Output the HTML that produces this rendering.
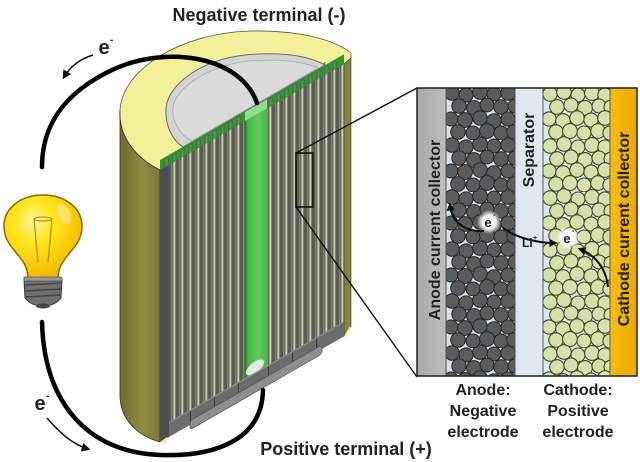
<!DOCTYPE html>
<html><head><meta charset="utf-8"><style>
html,body{margin:0;padding:0;background:#fff;}
svg{display:block}
text{font-family:"Liberation Sans",sans-serif}
</style></head><body>
<svg width="640" height="462" viewBox="0 0 640 462" xmlns="http://www.w3.org/2000/svg">
<defs>
 <linearGradient id="olive" x1="0" x2="1" y1="0" y2="0">
  <stop offset="0" stop-color="#6c6a2a"/>
  <stop offset="0.55" stop-color="#8e8c43"/>
  <stop offset="1" stop-color="#7a7834"/>
 </linearGradient>
 <linearGradient id="greenG" x1="0" x2="1" y1="0" y2="0">
  <stop offset="0" stop-color="#2f8f2f"/>
  <stop offset="0.15" stop-color="#45b545"/>
  <stop offset="0.6" stop-color="#62cc62"/>
  <stop offset="1" stop-color="#49b749"/>
 </linearGradient>
 <linearGradient id="grayC" x1="0" x2="1" y1="0" y2="0">
  <stop offset="0" stop-color="#a9a9a9"/>
  <stop offset="1" stop-color="#bdbdbd"/>
 </linearGradient>
 <linearGradient id="orangeC" x1="0" x2="1" y1="0" y2="0">
  <stop offset="0" stop-color="#f7bd10"/>
  <stop offset="1" stop-color="#eaa800"/>
 </linearGradient>
 <radialGradient id="bulbG" cx="0.38" cy="0.32" r="0.7">
  <stop offset="0" stop-color="#fff7a8"/>
  <stop offset="0.35" stop-color="#ffe61e"/>
  <stop offset="1" stop-color="#f2b800"/>
 </radialGradient>
 <radialGradient id="glow">
  <stop offset="0" stop-color="#ffffff" stop-opacity="1"/>
  <stop offset="0.6" stop-color="#ffffff" stop-opacity="0.9"/>
  <stop offset="1" stop-color="#ffffff" stop-opacity="0"/>
 </radialGradient>
 <pattern id="stripes" patternUnits="userSpaceOnUse" width="8" height="10" x="160" y="0">
   <rect width="8" height="10" fill="#d8d9a4"/>
   <rect x="0" width="3.5" height="10" fill="#5a5a5a"/>
   <rect x="3.5" width="1" height="10" fill="#9c9c9c"/>
   <rect x="4.5" width="0.8" height="10" fill="#2c2c2c"/>
   <rect x="7" width="1" height="10" fill="#7a7a7a"/>
 </pattern>
 <pattern id="anodeP" patternUnits="userSpaceOnUse" width="69" height="52" x="446" y="88">
  <rect width="69" height="52" fill="#d6e0ea"/>
  <g fill="#5b5b5b" stroke="#262626" stroke-width="1">
   <circle cx="6" cy="57" r="7.3"/><circle cx="20" cy="59" r="7.1"/><circle cx="34" cy="56" r="7.4"/><circle cx="48" cy="58" r="7"/><circle cx="62" cy="57" r="7.3"/>
   <circle cx="6" cy="5" r="7.3"/><circle cx="20" cy="7" r="7.1"/><circle cx="34" cy="4" r="7.4"/><circle cx="48" cy="6" r="7"/><circle cx="62" cy="5" r="7.3"/>
   <circle cx="13" cy="18" r="7.2"/><circle cx="28" cy="20" r="7.4"/><circle cx="41" cy="17" r="7"/><circle cx="55" cy="19" r="7.3"/><circle cx="69" cy="18" r="7"/>
   <circle cx="5" cy="31" r="7"/><circle cx="19" cy="32" r="7.4"/><circle cx="34" cy="30" r="7.2"/><circle cx="48" cy="33" r="7.3"/><circle cx="62" cy="31" r="7.1"/>
   <circle cx="12" cy="44" r="7.3"/><circle cx="27" cy="45" r="7"/><circle cx="41" cy="43" r="7.4"/><circle cx="55" cy="45" r="7.1"/><circle cx="68" cy="44" r="7.2"/>
  </g>
 </pattern>
 <pattern id="cathP" patternUnits="userSpaceOnUse" width="67" height="52" x="543" y="88">
  <rect width="67" height="52" fill="#e0e8ef"/>
  <g fill="#d8dfab" stroke="#3e4828" stroke-width="1.1">
   <circle cx="7" cy="58" r="7.2"/><circle cx="21" cy="56" r="7.3"/><circle cx="35" cy="59" r="7"/><circle cx="49" cy="57" r="7.4"/><circle cx="62" cy="59" r="7.1"/>
   <circle cx="7" cy="6" r="7.2"/><circle cx="21" cy="4" r="7.3"/><circle cx="35" cy="7" r="7"/><circle cx="49" cy="5" r="7.4"/><circle cx="62" cy="7" r="7.1"/>
   <circle cx="14" cy="19" r="7.3"/><circle cx="28" cy="17" r="7.1"/><circle cx="42" cy="20" r="7.4"/><circle cx="56" cy="18" r="7"/><circle cx="68" cy="19" r="7"/>
   <circle cx="6" cy="31" r="7.1"/><circle cx="20" cy="33" r="7.3"/><circle cx="34" cy="30" r="7.2"/><circle cx="48" cy="32" r="7.1"/><circle cx="62" cy="30" r="7.3"/>
   <circle cx="13" cy="44" r="7.2"/><circle cx="27" cy="43" r="7.4"/><circle cx="41" cy="45" r="7"/><circle cx="55" cy="43" r="7.3"/><circle cx="67" cy="45" r="7.1"/>
  </g>
 </pattern>
 <marker id="ah" viewBox="0 0 10 10" refX="7" refY="5" markerWidth="4" markerHeight="4" orient="auto">
  <path d="M0,0 L10,5 L0,10 z" fill="#111"/>
 </marker>
 <marker id="ah2" viewBox="0 0 10 10" refX="7" refY="5" markerWidth="6" markerHeight="6" orient="auto">
  <path d="M0,0 L10,5 L0,10 z" fill="#111"/>
 </marker>
</defs>

<!-- Battery: yellow top -->
<path d="M160,170 C135,158 118,135 120,110 C122,70 180,33 250,31 C300,30 335,40 351,53 L351,58 L344,64 Z" fill="#f4f09a" stroke="#555" stroke-width="0.8"/>
<!-- olive side -->
<path d="M120,110 C118,135 135,158 160,170 L160,442 C138,436 120,420 120,395 Z" fill="url(#olive)" stroke="#333" stroke-width="0.8"/>
<polygon points="344,64 351,58 351,326 344,336" fill="#858340" stroke="#333" stroke-width="0.6"/>

<!-- sheared face group -->
<g transform="matrix(1,-0.5745,0,1,0,261.92)">
  <rect x="160" y="-10" width="184" height="10" fill="#2a9a2a"/>
  <g fill="#7c7c7c" stroke="#3a3a3a" stroke-width="0.4">
   <rect x="165" y="-8" width="3" height="8"/><rect x="173" y="-8" width="3" height="8"/><rect x="181" y="-8" width="3" height="8"/>
   <rect x="189" y="-8" width="3" height="8"/><rect x="197" y="-8" width="3" height="8"/><rect x="205" y="-8" width="3" height="8"/>
   <rect x="213" y="-8" width="3" height="8"/><rect x="221" y="-8" width="3" height="8"/><rect x="229" y="-8" width="3" height="8"/>
   <rect x="237" y="-8" width="3" height="8"/>
   <rect x="269" y="-8" width="3" height="8"/><rect x="277" y="-8" width="3" height="8"/><rect x="285" y="-8" width="3" height="8"/>
   <rect x="293" y="-8" width="3" height="8"/><rect x="301" y="-8" width="3" height="8"/><rect x="309" y="-8" width="3" height="8"/>
   <rect x="317" y="-8" width="3" height="8"/><rect x="325" y="-8" width="3" height="8"/><rect x="333" y="-8" width="3" height="8"/>
  </g>
  <rect x="245" y="-10" width="22" height="10" fill="#8fde8f"/>
  <rect x="183" y="-13" width="142" height="3.5" fill="#9a9a9a" stroke="#666" stroke-width="0.5"/>
  <rect x="160" y="0" width="184" height="272" fill="url(#stripes)"/>
  <rect x="160" y="0" width="9" height="272" fill="#4d4d4d"/>
  <rect x="245" y="0" width="22" height="272" fill="url(#greenG)"/>
  <line x1="245" y1="0" x2="245" y2="272" stroke="#1f5f1f" stroke-width="1"/>
  <ellipse cx="255" cy="252" rx="9" ry="6" fill="#e4ebe4"/>
  <rect x="169" y="258" width="175" height="14" fill="#6b6b6b"/>
  <g fill="#3a3a3a">
   <rect x="190" y="258" width="1" height="14"/><rect x="214" y="258" width="1" height="14"/><rect x="238" y="258" width="1" height="14"/>
   <rect x="268" y="258" width="1" height="14"/><rect x="292" y="258" width="1" height="14"/><rect x="316" y="258" width="1" height="14"/>
  </g>
  <rect x="169" y="257" width="175" height="1.5" fill="#8c8c8c"/>
  <rect x="190" y="268" width="132" height="9" rx="3" fill="#8e8e8e" stroke="#555" stroke-width="0.8"/>
</g>
<polygon points="160,442 167,437 166,444" fill="#f0ec90"/>
<polygon points="344,336 350,330 350,326" fill="#f0ec90"/>

<!-- disk -->
<path d="M183,147 L325,65 C305,54 275,52 245,55 C200,60 168,85 166,108 C165,125 172,140 183,147 Z" fill="#d3d3d3" stroke="#6a6a6a" stroke-width="1"/>
<path d="M192,141 L318,68 C300,60 275,59 248,61 C208,66 175,88 173,108 C172,122 180,135 192,141 Z" fill="#dadada" stroke="#a8a8a8" stroke-width="0.8"/>

<!-- magnifier box and lines -->
<rect x="296" y="153" width="17" height="54" fill="none" stroke="#111" stroke-width="1.6"/>
<line x1="296" y1="153" x2="417" y2="88" stroke="#111" stroke-width="1.4"/>
<line x1="296" y1="207" x2="417" y2="377" stroke="#111" stroke-width="1.4"/>

<!-- wires -->
<path d="M257,103 C240,55 165,45 112,70 C70,90 42,120 42,167" fill="none" stroke="#000" stroke-width="4.5" stroke-linecap="round"/>
<path d="M42,322 C44,400 85,452 160,455 C215,457 262,440 263,390" fill="none" stroke="#000" stroke-width="4.5" stroke-linecap="round"/>

<!-- electron arrows left -->
<path d="M93,55 C80,59 70,67 64,77" fill="none" stroke="#111" stroke-width="1.5" marker-end="url(#ah2)"/>
<text x="104" y="54" font-size="20" font-weight="bold" fill="#222" text-anchor="middle">e</text>
<text x="110" y="43" font-size="10" font-weight="bold" fill="#222">-</text>
<path d="M47,418 C60,433 72,444 88,449" fill="none" stroke="#111" stroke-width="1.5" marker-end="url(#ah2)"/>
<text x="40" y="410" font-size="20" font-weight="bold" fill="#222" text-anchor="middle">e</text>
<text x="46" y="399" font-size="10" font-weight="bold" fill="#222">-</text>

<!-- bulb -->
<path d="M28,279 C28,266 22,260 14,250 C7,242 4,235 4,226 C4,208 21,195 43,195 C65,195 82,208 82,226 C82,235 79,242 72,250 C64,260 58,266 58,279 Z" fill="url(#bulbG)" stroke="#8a6a00" stroke-width="1.5"/>
<ellipse cx="64" cy="214" rx="6" ry="11" fill="#fff" opacity="0.35" transform="rotate(-25 64 214)"/>
<path d="M34,219 L38,262 M52,219 L48,262" stroke="#b08a10" stroke-width="1.2" fill="none"/>
<ellipse cx="43" cy="219" rx="9" ry="2" fill="none" stroke="#b08a10" stroke-width="1"/>
<path d="M24,279 L62,279 L61,298 Q55,306 43,306 Q31,306 25,298 Z" fill="#6f6f6f" stroke="#333" stroke-width="1"/>
<path d="M25,285 L61,283 M25,291 L61,289 M26,297 L60,295" stroke="#444" stroke-width="1.5"/>
<rect x="24" y="277" width="38" height="4" fill="#9a9a9a" stroke="#444" stroke-width="0.6"/>
<ellipse cx="43" cy="306" rx="7" ry="2.5" fill="#444"/>

<!-- right panel -->
<rect x="417" y="88" width="29" height="288" fill="url(#grayC)"/>
<rect x="446" y="88" width="69" height="288" fill="url(#anodeP)"/>
<rect x="515" y="88" width="28" height="288" fill="#dfe7ef"/>
<rect x="543" y="88" width="67" height="288" fill="url(#cathP)"/>
<rect x="610" y="88" width="27" height="288" fill="url(#orangeC)"/>
<g stroke="#555" stroke-width="1">
 <line x1="446" y1="88" x2="446" y2="376"/>
 <line x1="515" y1="88" x2="515" y2="376"/>
 <line x1="543" y1="88" x2="543" y2="376"/>
 <line x1="610" y1="88" x2="610" y2="376"/>
</g>
<rect x="417" y="88" width="220" height="288" fill="none" stroke="#222" stroke-width="1.5"/>

<text transform="translate(440,230) rotate(-90)" font-size="16" font-weight="bold" fill="#222" text-anchor="middle">Anode current collector</text>
<text transform="translate(534,150) rotate(-90)" font-size="16" font-weight="bold" fill="#222" text-anchor="middle">Separator</text>
<text transform="translate(629,229) rotate(-90)" font-size="16" font-weight="bold" fill="#222" text-anchor="middle">Cathode current collector</text>

<!-- electrons in panel -->
<circle cx="489" cy="222" r="12" fill="url(#glow)"/>
<circle cx="568" cy="238" r="12" fill="url(#glow)"/>
<path d="M484,231 C470,232 452,226 450,205" fill="none" stroke="#111" stroke-width="2" marker-end="url(#ah)"/>
<path d="M503,228 C515,237 535,243 555,243" fill="none" stroke="#111" stroke-width="2" marker-end="url(#ah)"/>
<path d="M608,287 C606,268 595,255 580,249" fill="none" stroke="#111" stroke-width="2" marker-end="url(#ah)"/>
<text x="488" y="227" font-size="13" font-weight="bold" fill="#222" text-anchor="middle">e</text>
<text x="493" y="217" font-size="8" font-weight="bold" fill="#222">-</text>
<text x="567" y="243" font-size="13" font-weight="bold" fill="#222" text-anchor="middle">e</text>
<text x="572" y="233" font-size="8" font-weight="bold" fill="#222">-</text>
<text x="522" y="247" font-size="12" font-weight="bold" fill="#222">Li</text>
<text x="533" y="240" font-size="7" font-weight="bold" fill="#222">+</text>

<!-- labels -->
<text x="259" y="21" font-size="18" font-weight="bold" fill="#222" text-anchor="middle">Negative terminal (-)</text>
<text x="346" y="455" font-size="18" font-weight="bold" fill="#222" text-anchor="middle">Positive terminal (+)</text>
<g font-size="16" font-weight="bold" fill="#222" text-anchor="middle">
 <text x="483" y="395">Anode:</text>
 <text x="483" y="416">Negative</text>
 <text x="483" y="437">electrode</text>
 <text x="578" y="395">Cathode:</text>
 <text x="578" y="416">Positive</text>
 <text x="578" y="437">electrode</text>
</g>
</svg>
</body></html>
